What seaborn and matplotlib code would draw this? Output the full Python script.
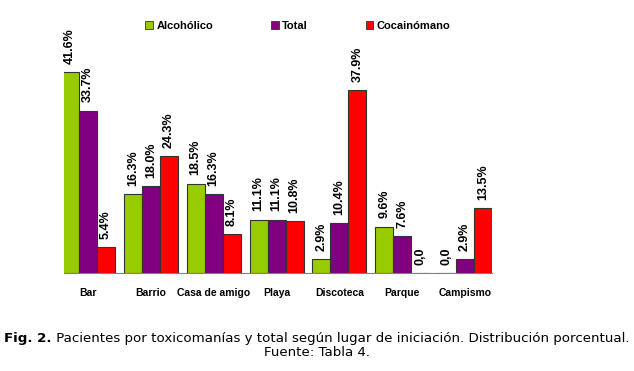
import numpy as np
import pandas as pd
import matplotlib
matplotlib.use("Agg")
import matplotlib.pyplot as plt
import seaborn as sns

lugares = ["Bar", "Barrio", "Casa de amigo", "Playa", "Discoteca", "Parque", "Campismo"]
grupos = ["Alcohólico", "Total", "Cocainómano"]
alcoholico = [41.6, 16.3, 18.5, 11.1, 2.9, 9.6, 0.0]
total = [33.7, 18.0, 16.3, 11.1, 10.4, 7.6, 2.9]
cocainomano = [5.4, 24.3, 8.1, 10.8, 37.9, 0.0, 13.5]
colores = ["#99CC00", "#800080", "#FF0000"]

df = pd.DataFrame({
    "lugar": lugares * 3,
    "grupo": np.repeat(grupos, len(lugares)),
    "pct": alcoholico + total + cocainomano,
})

sns.set_style("white")
plt.rcParams["font.family"] = ["Liberation Sans", "DejaVu Sans"]
plt.rcParams["text.color"] = "black"
plt.rcParams["xtick.labelcolor"] = "black"

fig = plt.figure(figsize=(6.34, 3.71), dpi=100)
ax = fig.add_axes([0.101, 0.264, 0.675, 0.65])

sns.barplot(data=df, x="lugar", y="pct", hue="grupo", order=lugares, hue_order=grupos,
            palette=colores, saturation=1, width=0.86, gap=0,
            edgecolor="#333333", linewidth=0.8, legend=False, ax=ax)

for cont, vals in zip(ax.containers, [alcoholico, total, cocainomano]):
    labs = ["0,0" if v == 0 else f"{v:.1f}%" for v in vals]
    ax.bar_label(cont, labels=labs, rotation=90, padding=6, fontsize=9,
                 fontweight="bold", color="black", clip_on=False)

ax.set_xlim(-0.383, 6.43)
ax.set_ylim(0, 50)
ax.set_xlabel("")
ax.set_ylabel("")
ax.set_yticks([])
for s in ["top", "right", "left"]:
    ax.spines[s].set_visible(False)
ax.spines["bottom"].set_color("#808080")
ax.set_xticks(np.arange(0.5, 6, 1), minor=True)
ax.tick_params(axis="x", which="major", length=0, pad=11, labelsize=7.5)
ax.tick_params(axis="x", which="minor", length=3, color="#808080", direction="out")
for t in ax.get_xticklabels():
    t.set_fontweight("bold")

handles = [plt.Rectangle((0, 0), 1, 1, facecolor=c, edgecolor="#333333", linewidth=0.6)
           for c in colores]
fig.legend(handles, grupos, loc="center", bbox_to_anchor=(0.47, 0.93), ncol=3,
           frameon=False, handlelength=0.7, handleheight=0.7, handletextpad=0.3,
           columnspacing=5.2, prop={"weight": "bold", "size": 8})

# caption: bold "Fig. 2." followed by normal text, centred as one line
fs = 9.6
r = fig.canvas.get_renderer()
t1 = fig.text(0, 0.088, "Fig. 2.", fontsize=fs, fontweight="bold", family="DejaVu Sans",
              va="center", ha="left")
t2 = fig.text(0, 0.088, " Pacientes por toxicomanías y total según lugar de iniciación. Distribución porcentual.",
              fontsize=fs, family="DejaVu Sans", va="center", ha="left")
w1 = t1.get_window_extent(r).width / fig.bbox.width
w2 = t2.get_window_extent(r).width / fig.bbox.width
x0 = 0.5 - (w1 + w2) / 2
t1.set_x(x0)
t2.set_x(x0 + w1)
fig.text(0.5, 0.05, "Fuente: Tabla 4.", ha="center", va="center", fontsize=fs,
         family="DejaVu Sans")

fig.savefig("out.png", dpi=100)
